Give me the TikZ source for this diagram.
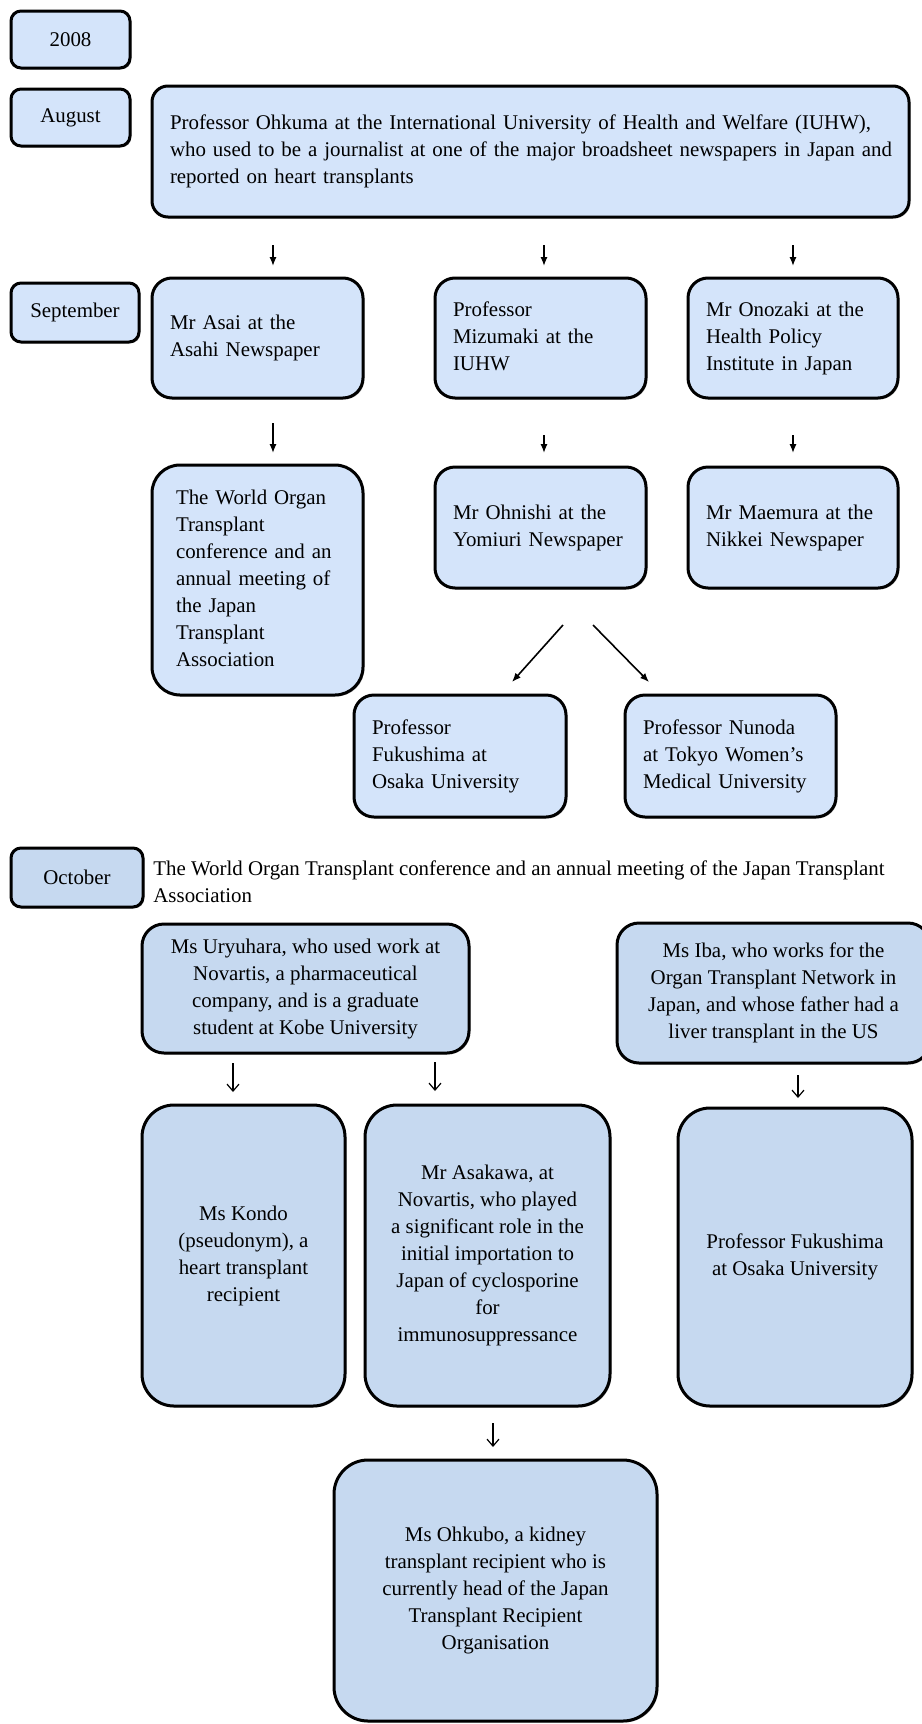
\documentclass[tikz,border=0pt]{standalone}
\usepackage{fontspec}
\setmainfont{Liberation Serif}
\usetikzlibrary{arrows.meta,shadows}
\definecolor{boxtop}{RGB}{212,228,250}
\definecolor{boxbot}{RGB}{198,217,240}
\newcommand{\TxtL}[1]{\begin{tabular}{@{}l@{}}#1\end{tabular}}
\newcommand{\TxtC}[1]{\begin{tabular}{@{}c@{}}#1\end{tabular}}
\tikzset{
  every node/.style={font=\fontsize{10.45}{13.5}\selectfont},
  basebox/.style={draw=black, line width=1.5pt, inner sep=0pt,
    drop shadow={shadow xshift=0.7pt, shadow yshift=-0.7pt, opacity=0.3, fill=black}},
  toplabel/.style={basebox, fill=boxtop, rounded corners=5pt, align=center},
  botlabel/.style={basebox, fill=boxbot, rounded corners=5pt, align=center},
  leftbox/.style={basebox, fill=boxtop, inner xsep=9pt, align=left},
  centbox/.style={basebox, fill=boxbot, align=center},
  arrtop/.style={line width=0.8pt, -{Latex[length=4.5pt,width=3.6pt]}},
  arrbot/.style={line width=0.6pt, -{Straight Barb[length=3.5pt,width=6pt]}},
}
\begin{document}
\begin{tikzpicture}[x=0.5pt,y=-0.5pt]
\fill[white] (0,0) rectangle (921,1724);
\useasboundingbox (0,0) rectangle (921,1724);

% month labels
\node[toplabel, minimum width=59.5pt, minimum height=28.5pt] (y2008) at (70.5,39.5) {2008};
\node[toplabel, minimum width=59.5pt, minimum height=28.5pt] (aug) at (70.5,117.5) {August};
\node[toplabel, minimum width=64pt, minimum height=29.5pt] (sep) at (75,312.5) {September};
\node[botlabel, minimum width=66pt, minimum height=29.5pt] (oct) at (77,877.5) {October};

% August
\node[leftbox, rounded corners=8pt, minimum width=378.5pt, minimum height=65.5pt, text width=360.5pt] (ohkuma) at (530.5,151.5)
  {\TxtL{Professor Ohkuma at the International University of Health and Welfare (IUHW),\\
   who used to be a journalist at one of the major broadsheet newspapers in Japan and\\
   reported on heart transplants}};

% September row 1
\node[leftbox, rounded corners=10pt, minimum width=105.5pt, minimum height=60pt, text width=87.5pt] (asai) at (257.5,338)
  {\TxtL{Mr Asai at the\\Asahi Newspaper}};
\node[leftbox, rounded corners=10pt, minimum width=105.5pt, minimum height=60pt, text width=87.5pt] (mizu) at (540.5,338)
  {\TxtL{Professor\\Mizumaki at the\\IUHW}};
\node[leftbox, rounded corners=10pt, minimum width=105pt, minimum height=60pt, text width=87pt] (onoz) at (793,338)
  {\TxtL{Mr Onozaki at the\\Health Policy\\Institute in Japan}};

% September row 2
\node[leftbox, rounded corners=14pt, inner xsep=12pt, minimum width=105.5pt, minimum height=115pt, text width=81.5pt] (world) at (257.5,580)
  {\TxtL{The World Organ\\Transplant\\conference and an\\annual meeting of\\the Japan\\Transplant\\Association}};
\node[leftbox, rounded corners=10pt, minimum width=105.5pt, minimum height=60.5pt, text width=87.5pt] (ohni) at (540.5,527.5)
  {\TxtL{Mr Ohnishi at the\\Yomiuri Newspaper}};
\node[leftbox, rounded corners=10pt, minimum width=105pt, minimum height=60.5pt, text width=87pt] (maem) at (793,527.5)
  {\TxtL{Mr Maemura at the\\Nikkei Newspaper}};

% September row 3
\node[leftbox, rounded corners=10pt, minimum width=106pt, minimum height=61pt, text width=88pt] (fuku1) at (460,756)
  {\TxtL{Professor\\Fukushima at\\Osaka University}};
\node[leftbox, rounded corners=10pt, minimum width=105.5pt, minimum height=61pt, text width=87.5pt] (nuno) at (730.5,756)
  {\TxtL{Professor Nunoda\\at Tokyo Women's\\Medical University}};

% October caption
\node[anchor=north west, inner sep=0pt, align=left] (octtext) at (153,856)
  {\TxtL{The World Organ Transplant conference and an annual meeting of the Japan Transplant\\Association}};

% October boxes
\node[centbox, rounded corners=11pt, minimum width=163.5pt, minimum height=64.5pt] (ury) at (305.5,988.5)
  {\TxtC{Ms Uryuhara, who used work at\\Novartis, a pharmaceutical\\company, and is a graduate\\student at Kobe University}};
\node[centbox, rounded corners=11pt, minimum width=156.5pt, minimum height=70pt] (iba) at (773.5,993)
  {\TxtC{Ms Iba, who works for the\\Organ Transplant Network in\\Japan, and whose father had a\\liver transplant in the US}};
\node[centbox, rounded corners=16pt, minimum width=101.5pt, minimum height=150.5pt] (kondo) at (243.5,1255.5)
  {\TxtC{Ms Kondo\\(pseudonym), a\\heart transplant\\recipient}};
\node[centbox, rounded corners=16pt, minimum width=122.5pt, minimum height=150.5pt] (asak) at (487.5,1255.5)
  {\TxtC{Mr Asakawa, at\\Novartis, who played\\a significant role in the\\initial importation to\\Japan of cyclosporine\\for\\immunosuppressance}};
\node[centbox, rounded corners=16pt, minimum width=117pt, minimum height=149pt] (fuku2) at (795,1257)
  {\TxtC{Professor Fukushima\\at Osaka University}};
\node[centbox, rounded corners=17pt, minimum width=161.5pt, minimum height=130.5pt] (ohkubo) at (495.5,1590.5)
  {\TxtC{Ms Ohkubo, a kidney\\transplant recipient who is\\currently head of the Japan\\Transplant Recipient\\Organisation}};

% arrow end points
\coordinate (a1s) at (273,245);  \coordinate (a1e) at (273,266);
\coordinate (a2s) at (544,245);  \coordinate (a2e) at (544,266);
\coordinate (a3s) at (793,245);  \coordinate (a3e) at (793,266);
\coordinate (b1s) at (273,423);  \coordinate (b1e) at (273,453);
\coordinate (b2s) at (544,435);  \coordinate (b2e) at (544,453);
\coordinate (b3s) at (793,435);  \coordinate (b3e) at (793,453);
\coordinate (d1s) at (563,625);  \coordinate (d1e) at (512,682);
\coordinate (d2s) at (593,625);  \coordinate (d2e) at (649,682);
\coordinate (c1s) at (233,1063); \coordinate (c1e) at (233,1092);
\coordinate (c2s) at (435,1062); \coordinate (c2e) at (435,1091);
\coordinate (c3s) at (798,1075); \coordinate (c3e) at (798,1098);
\coordinate (e1s) at (493,1423); \coordinate (e1e) at (493,1447);

\draw[arrtop] (a1s) -- (a1e);
\draw[arrtop] (a2s) -- (a2e);
\draw[arrtop] (a3s) -- (a3e);
\draw[arrtop] (b1s) -- (b1e);
\draw[arrtop] (b2s) -- (b2e);
\draw[arrtop] (b3s) -- (b3e);
\draw[arrtop] (d1s) -- (d1e);
\draw[arrtop] (d2s) -- (d2e);
\draw[arrbot] (c1s) -- (c1e);
\draw[arrbot] (c2s) -- (c2e);
\draw[arrbot] (c3s) -- (c3e);
\draw[arrbot] (e1s) -- (e1e);
\end{tikzpicture}
\end{document}
